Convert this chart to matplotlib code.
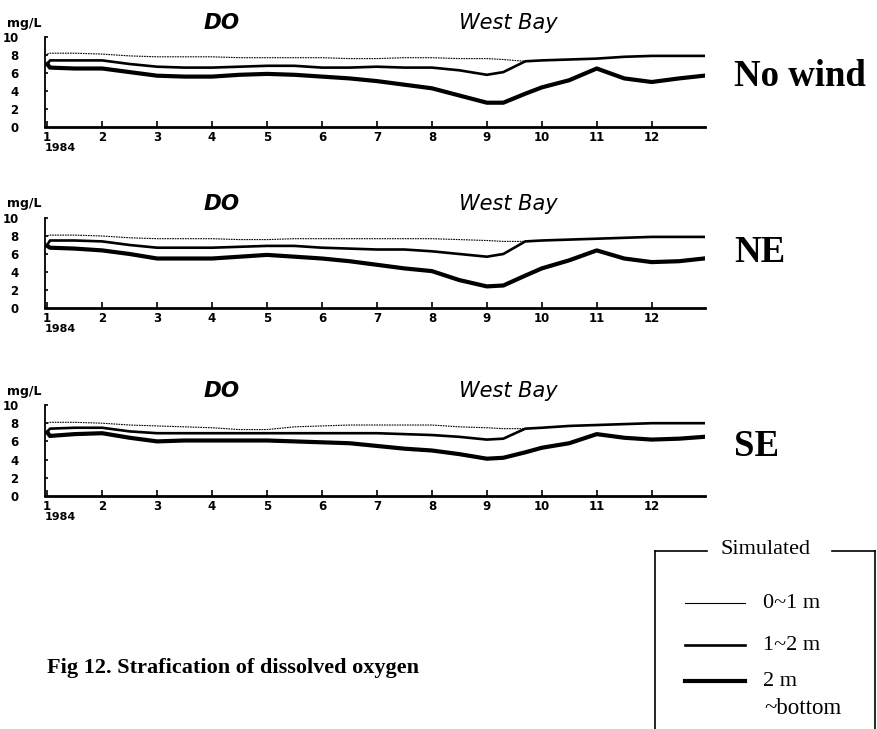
import matplotlib
matplotlib.use('Agg')
import matplotlib.pyplot as plt
from matplotlib.lines import Line2D

# sample months (1 = start of Jan 1984)
months = [1.0, 1.05, 1.5, 2, 2.5, 3, 3.5, 4, 4.5, 5, 5.5, 6, 6.5, 7, 7.5,
          8, 8.5, 9, 9.3, 9.7, 10, 10.5, 11, 11.5, 12, 12.5, 12.95]

# No wind
nowind_top = [8.1, 8.2, 8.2, 8.1, 7.9, 7.8, 7.8, 7.8, 7.7, 7.7, 7.7, 7.7, 7.6, 7.6,
              7.7, 7.7, 7.6, 7.6, 7.5, 7.3, 7.4, 7.5, 7.6, 7.8, 7.9, 7.9, 7.9]
nowind_mid = [6.9, 7.4, 7.4, 7.4, 7.0, 6.7, 6.6, 6.6, 6.7, 6.8, 6.8, 6.6, 6.6, 6.7,
              6.6, 6.6, 6.3, 5.8, 6.1, 7.3, 7.4, 7.5, 7.6, 7.8, 7.9, 7.9, 7.9]
nowind_bot = [7.0, 6.6, 6.5, 6.5, 6.1, 5.7, 5.6, 5.6, 5.8, 5.9, 5.8, 5.6, 5.4, 5.1,
              4.7, 4.3, 3.5, 2.7, 2.7, 3.7, 4.4, 5.2, 6.5, 5.4, 5.0, 5.4, 5.7]

# NE wind
ne_top = [8.0, 8.1, 8.1, 8.0, 7.8, 7.7, 7.7, 7.7, 7.6, 7.6, 7.7, 7.7, 7.7, 7.7,
          7.7, 7.7, 7.6, 7.5, 7.4, 7.4, 7.5, 7.6, 7.7, 7.8, 7.9, 7.9, 7.9]
ne_mid = [7.0, 7.5, 7.5, 7.4, 7.0, 6.7, 6.7, 6.7, 6.8, 6.9, 6.9, 6.7, 6.6, 6.5,
          6.5, 6.3, 6.0, 5.7, 6.0, 7.4, 7.5, 7.6, 7.7, 7.8, 7.9, 7.9, 7.9]
ne_bot = [6.9, 6.7, 6.6, 6.4, 6.0, 5.5, 5.5, 5.5, 5.7, 5.9, 5.7, 5.5, 5.2, 4.8,
          4.4, 4.1, 3.1, 2.4, 2.5, 3.6, 4.4, 5.3, 6.4, 5.5, 5.1, 5.2, 5.5]

# SE wind
se_top = [8.0, 8.1, 8.1, 8.0, 7.8, 7.7, 7.6, 7.5, 7.3, 7.3, 7.6, 7.7, 7.8, 7.8,
          7.8, 7.8, 7.6, 7.5, 7.4, 7.4, 7.5, 7.7, 7.8, 7.9, 8.0, 8.0, 8.0]
se_mid = [7.0, 7.4, 7.5, 7.5, 7.1, 6.9, 6.9, 6.9, 6.9, 6.9, 6.9, 6.9, 6.9, 6.9,
          6.8, 6.7, 6.5, 6.2, 6.3, 7.4, 7.5, 7.7, 7.8, 7.9, 8.0, 8.0, 8.0]
se_bot = [7.0, 6.6, 6.8, 6.9, 6.4, 6.0, 6.1, 6.1, 6.1, 6.1, 6.0, 5.9, 5.8, 5.5,
          5.2, 5.0, 4.6, 4.1, 4.2, 4.8, 5.3, 5.8, 6.8, 6.4, 6.2, 6.3, 6.5]

panel_names = ['No wind', 'NE', 'SE']
panel_data = [(nowind_top, nowind_mid, nowind_bot),
              (ne_top, ne_mid, ne_bot),
              (se_top, se_mid, se_bot)]
month_ticks = list(range(1, 13))
y_ticks = [0, 2, 4, 6, 8, 10]
layer_labels = ['0~1 m', '1~2 m', '2 m']

W, H = 878, 729
fig = plt.figure(figsize=(W / 100, H / 100), dpi=100)

# axes in pixels: (left, top, right, bottom)
boxes = [(45, 37, 705, 127), (45, 218, 705, 308), (45, 405, 705, 496)]
label_y = [76, 253, 447]

def fx(x):
    return x / W

def fy(y):
    return 1 - y / H

for (l, t, r, b), name, (top, mid, bot), ly in zip(boxes, panel_names, panel_data, label_y):
    ax = fig.add_axes([fx(l), fy(b), fx(r) - fx(l), (b - t) / H])
    ax.plot(months, top, color='black', lw=0.8, ls=(0, (1.5, 0.8)))
    ax.plot(months, mid, color='black', lw=1.9)
    ax.plot(months, bot, color='black', lw=3.0)
    ax.set_xlim(0.96, 12.97)
    ax.set_ylim(0, 10)
    for s in ['top', 'right']:
        ax.spines[s].set_visible(False)
    ax.spines['left'].set_linewidth(1.3)
    ax.spines['bottom'].set_linewidth(2.0)
    ax.set_xticks(month_ticks)
    ax.set_xticklabels([str(m) for m in month_ticks], fontsize=8.5, fontweight='bold')
    ax.set_yticks(y_ticks)
    ax.set_yticklabels([str(v) for v in y_ticks], fontsize=8.5, fontweight='bold', ha='right')
    ax.tick_params(axis='x', direction='in', length=4, width=1.2, pad=3)
    ax.tick_params(axis='y', direction='in', length=2, width=1.2, pad=19)
    ax.text(0.96, -0.18, '1984', transform=ax.get_xaxis_transform(),
            fontsize=8, fontweight='bold', va='top', ha='left')

    fig.text(fx(7), fy(t - 14), 'mg/L', fontsize=9, fontweight='bold', va='center', ha='left')
    fig.text(fx(222), fy(t - 14), 'DO', fontsize=15.5, fontstyle='italic',
             fontweight='bold', va='center', ha='center')
    fig.text(fx(508), fy(t - 14), 'West Bay', fontsize=15, fontstyle='italic',
             va='center', ha='center')
    fig.text(fx(734), fy(ly), name, fontsize=26.5, fontweight='bold',
             family='Liberation Serif', va='center', ha='left')

# caption
fig.text(fx(47), fy(668), 'Fig 12. Strafication of dissolved oxygen', fontsize=16,
         fontweight='bold', family='Liberation Serif', va='center', ha='left')

# legend box, open at the bottom of the page
fig.add_artist(Line2D([fx(655), fx(655)], [fy(551), fy(740)], color='black', lw=1.2))
fig.add_artist(Line2D([fx(875), fx(875)], [fy(551), fy(740)], color='black', lw=1.2))
fig.add_artist(Line2D([fx(655), fx(707)], [fy(551), fy(551)], color='black', lw=1.2))
fig.add_artist(Line2D([fx(832), fx(875)], [fy(551), fy(551)], color='black', lw=1.2))
fig.text(fx(766), fy(549), 'Simulated', fontsize=16, family='Liberation Serif',
         va='center', ha='center')

legend_y = [603, 645, 681]
legend_lw = [0.8, 1.9, 3.0]
for yy, lw, lab in zip(legend_y, legend_lw, layer_labels):
    fig.add_artist(Line2D([fx(685), fx(745)], [fy(yy), fy(yy)], color='black', lw=lw))
    fig.text(fx(763), fy(yy), lab, fontsize=16, family='Liberation Serif',
             va='center', ha='left')
fig.text(fx(764), fy(709), '~bottom', fontsize=16.5, family='Liberation Serif',
         va='center', ha='left')

plt.savefig('out.png', dpi=100)
